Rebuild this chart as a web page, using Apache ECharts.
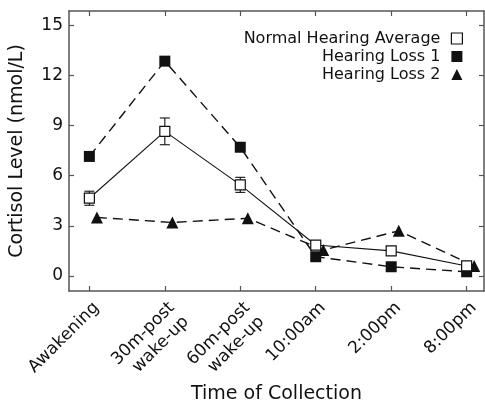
<!DOCTYPE html>
<html><head><meta charset="utf-8">
<script src="https://cdn.jsdelivr.net/npm/echarts@6/dist/echarts.min.js"></script>
<style>html,body{margin:0;padding:0;background:#fff}#c{width:485px;height:406px}</style>
</head><body><div id="c"></div>
<script>
const categories = ['Awakening', '30m-post\nwake-up', '60m-post\nwake-up', '10:00am', '2:00pm', '8:00pm'];
const normalHearing = [4.65, 8.65, 5.45, 1.85, 1.5, 0.6];
const normalError = [0.42, 0.8, 0.45, 0.15, 0.1, 0.08];
const hearingLoss1 = [7.15, 12.85, 7.7, 1.15, 0.55, 0.25];
const hearingLoss2 = [3.5, 3.2, 3.45, 1.55, 2.7, 0.6];
const yTicks = [0, 3, 6, 9, 12, 15];
const catIdx = categories.map((_, i) => i);

const FONT = 'DejaVu Sans';
const INK = '#111';
const AX = '#555';
const tri = 0.1;

const chart = echarts.init(document.getElementById('c'), null, {renderer: 'canvas'});
const axisCommon = {
  axisLine: {show: true, onZero: false, lineStyle: {color: AX, width: 1.5}},
  splitLine: {show: false}
};
chart.setOption({
  animation: false,
  backgroundColor: '#fff',
  grid: {left: 69, top: 11, right: 1, bottom: 115, containLabel: false, outerBoundsMode: 'none'},
  legend: {
    orient: 'vertical', right: 17, top: 25, align: 'right',
    itemWidth: 11, itemHeight: 11, itemGap: 1,
    textStyle: {fontFamily: FONT, fontSize: 16, color: INK, lineHeight: 17, padding: [0, 6, 0, 0]},
    data: [
      {name: 'Normal Hearing Average', icon: 'rect', itemStyle: {color: '#fff', borderColor: INK, borderWidth: 1.2}},
      {name: 'Hearing Loss 1', icon: 'rect', itemStyle: {color: INK}},
      {name: 'Hearing Loss 2', icon: 'triangle', itemStyle: {color: INK}}
    ]
  },
  xAxis: [{
    type: 'value', min: -0.27, max: 5.23, position: 'bottom', ...axisCommon,
    axisTick: {show: true, inside: true, length: 5, customValues: catIdx, lineStyle: {color: AX, width: 1.2}},
    axisLabel: {customValues: catIdx, rotate: 45, margin: 7, verticalAlign: 'top', fontFamily: FONT, fontSize: 17, color: INK,
      lineHeight: 20, formatter: v => categories[Math.round(v)]},
    name: 'Time of Collection', nameLocation: 'middle', nameGap: 94, nameMoveOverlap: false,
    nameTextStyle: {fontFamily: FONT, fontSize: 19, color: INK}
  }, {
    type: 'value', min: -0.27, max: 5.23, position: 'top', ...axisCommon,
    axisTick: {show: true, inside: true, length: 5, customValues: catIdx, lineStyle: {color: AX, width: 1.2}},
    axisLabel: {show: false}
  }],
  yAxis: [{
    type: 'value', min: -0.9, max: 15.85, position: 'left', ...axisCommon,
    axisTick: {show: true, inside: true, length: 5, customValues: yTicks, lineStyle: {color: AX, width: 1.2}},
    axisLabel: {customValues: yTicks, margin: 6, fontFamily: FONT, fontSize: 17, color: INK},
    name: 'Cortisol Level (nmol/L)', nameLocation: 'middle', nameGap: 42, nameMoveOverlap: false,
    nameTextStyle: {fontFamily: FONT, fontSize: 19, color: INK}
  }, {
    type: 'value', min: -0.9, max: 15.85, position: 'right', ...axisCommon,
    axisTick: {show: true, inside: true, length: 5, customValues: yTicks, lineStyle: {color: AX, width: 1.2}},
    axisLabel: {show: false}
  }],
  series: [
    {
      name: 'Hearing Loss 2', type: 'line', z: 2,
      data: hearingLoss2.map((v, i) => [i + tri, v]),
      symbol: 'triangle', symbolSize: 12,
      lineStyle: {color: INK, width: 1.4, type: [10, 6]},
      itemStyle: {color: INK}
    },
    {
      name: 'Hearing Loss 1', type: 'line', z: 3,
      data: hearingLoss1.map((v, i) => [i, v]),
      symbol: 'rect', symbolSize: 11,
      lineStyle: {color: INK, width: 1.4, type: [10, 6]},
      itemStyle: {color: INK}
    },
    {
      name: 'Normal Hearing Average', type: 'line', z: 5,
      data: normalHearing.map((v, i) => [i, v]),
      symbol: 'rect', symbolSize: 10,
      lineStyle: {color: INK, width: 1.1},
      itemStyle: {color: '#fff', borderColor: INK, borderWidth: 1.2}
    },
    {
      name: 'err', type: 'custom', z: 4,
      data: normalHearing.map((v, i) => [i, v - normalError[i], v + normalError[i]]),
      renderItem: (params, api) => {
        const lo = api.coord([api.value(0), api.value(1)]);
        const hi = api.coord([api.value(0), api.value(2)]);
        const w = 5;
        const st = {stroke: INK, lineWidth: 1.1};
        return {type: 'group', children: [
          {type: 'line', shape: {x1: lo[0], y1: lo[1], x2: hi[0], y2: hi[1]}, style: st},
          {type: 'line', shape: {x1: lo[0] - w, y1: lo[1], x2: lo[0] + w, y2: lo[1]}, style: st},
          {type: 'line', shape: {x1: hi[0] - w, y1: hi[1], x2: hi[0] + w, y2: hi[1]}, style: st}
        ]};
      }
    }
  ]
});
</script></body></html>
